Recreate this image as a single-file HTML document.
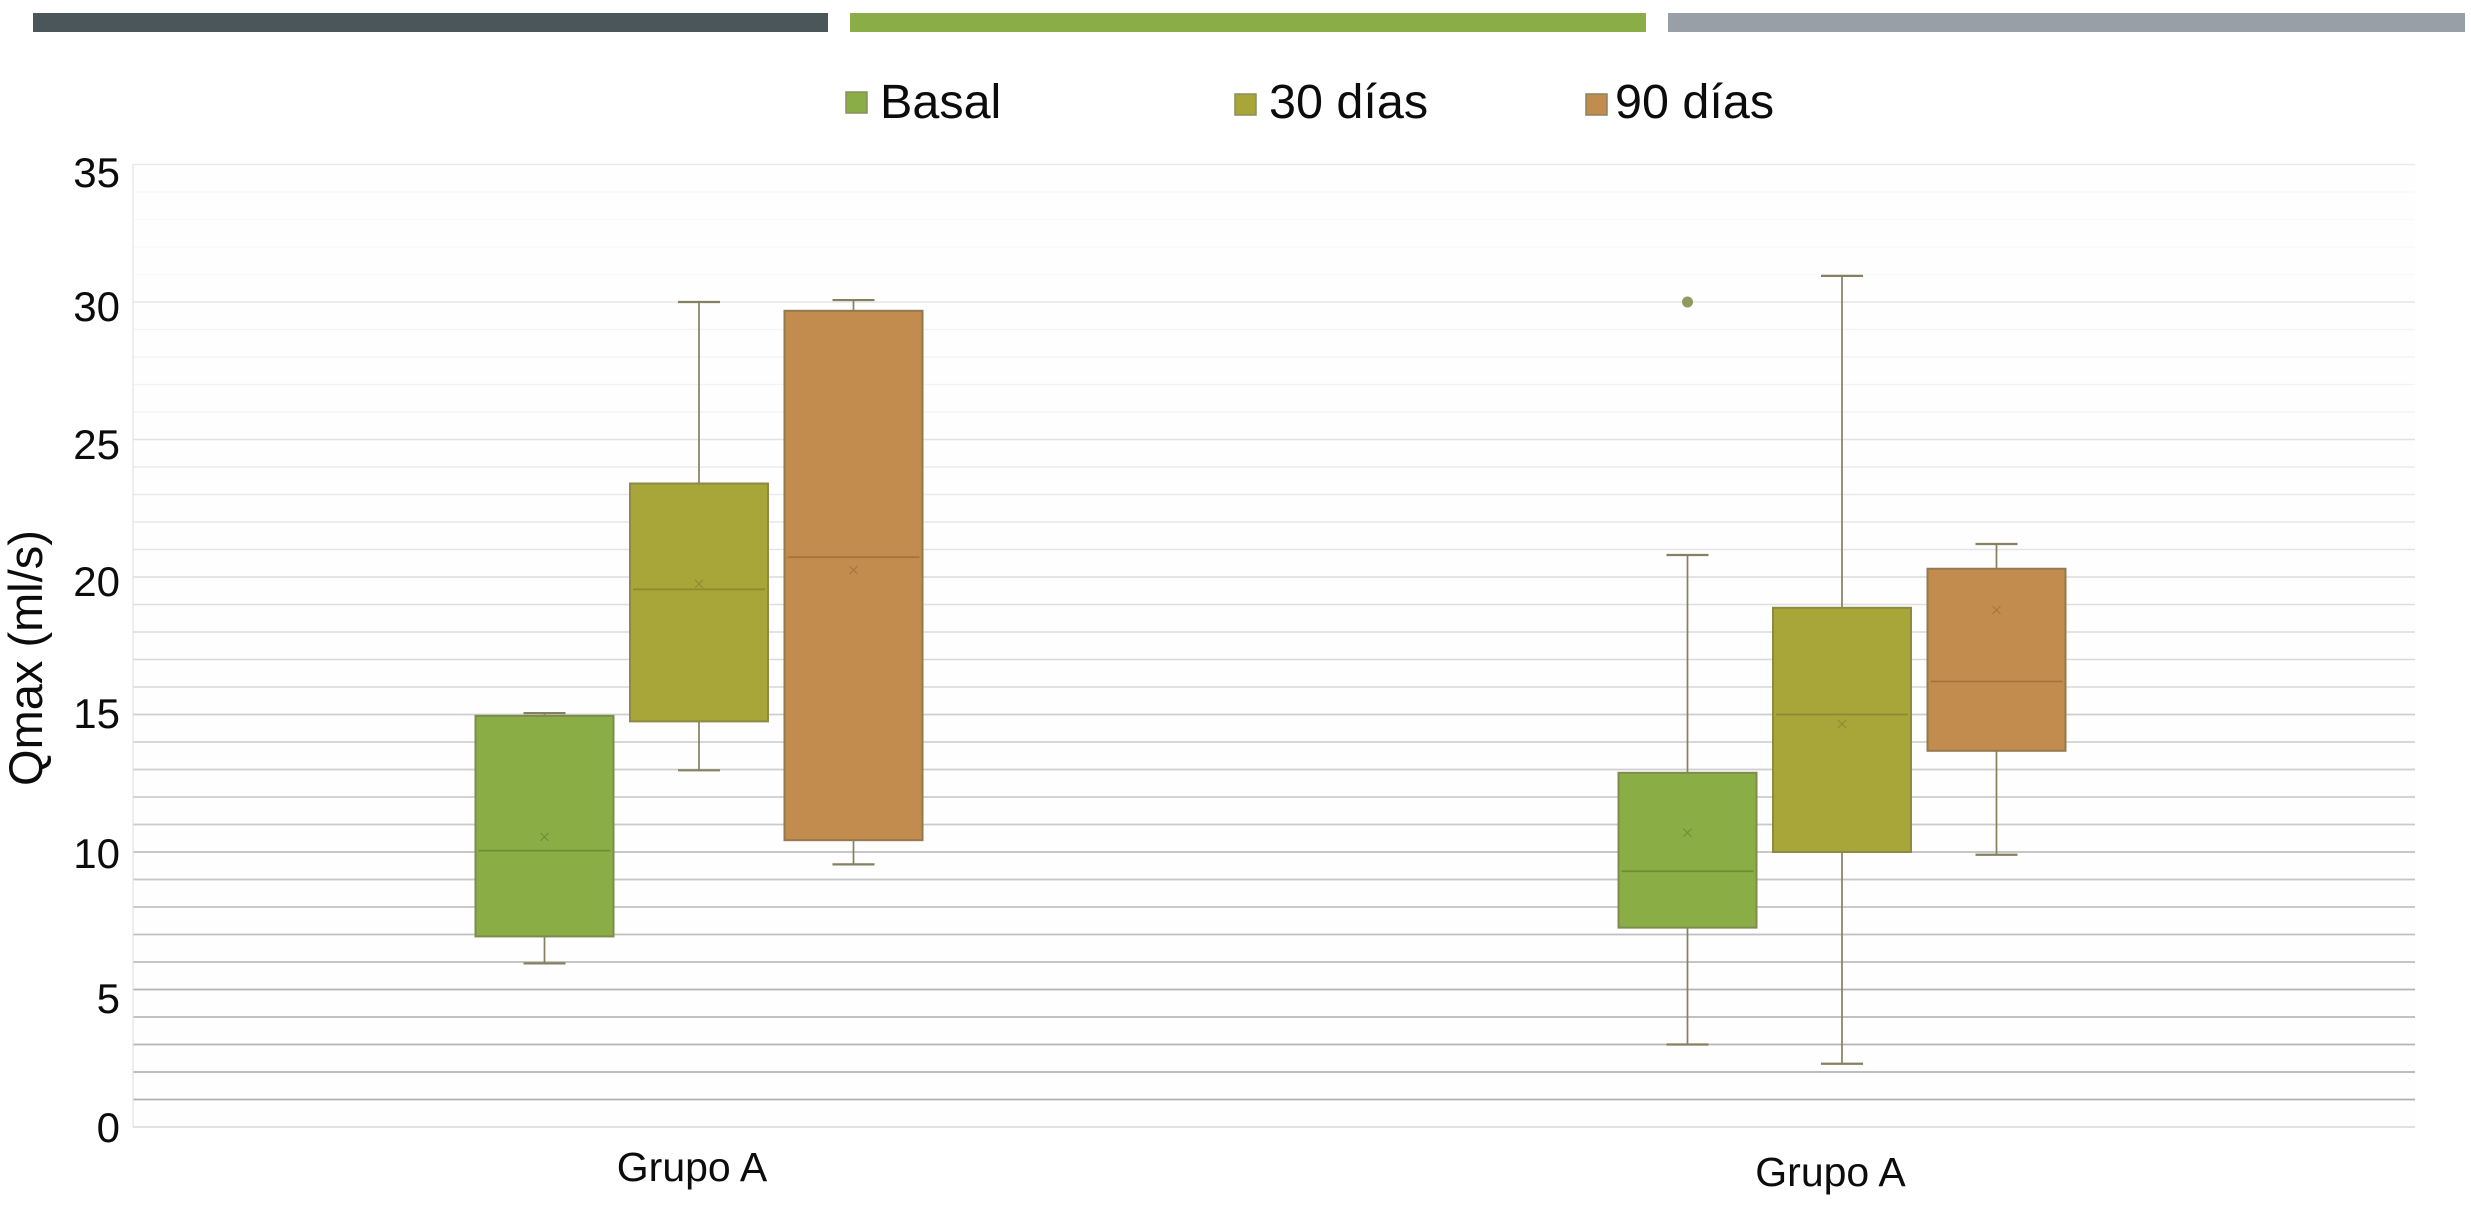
<!DOCTYPE html>
<html lang="es">
<head>
<meta charset="utf-8">
<title>Qmax (ml/s)</title>
<style>
html,body{margin:0;padding:0;background:#fff;width:2471px;height:1205px;overflow:hidden}
svg{display:block}
text{font-family:"Liberation Sans",Arial,sans-serif;fill:#0c0c0c}
</style>
</head>
<body>
<svg id="chart" xmlns="http://www.w3.org/2000/svg" width="2471" height="1205" viewBox="0 0 2471 1205">
  <rect x="133" y="165" width="2282" height="962" fill="#fefefe"/>
  <rect x="33" y="13" width="795" height="19" fill="#4b565b"/>
  <rect x="850" y="13" width="796" height="19" fill="#8aad48"/>
  <rect x="1668" y="13" width="797" height="19" fill="#989fa6"/>
  <g>
    <rect x="846" y="92" width="21" height="21" fill="#8aae45" stroke="#8a8f5c" stroke-width="1.5"/>
    <text x="880" y="118" font-size="48.5">Basal</text>
    <rect x="1235" y="94" width="21" height="21" fill="#a8a539" stroke="#8a8f5c" stroke-width="1.5"/>
    <text x="1269" y="118" font-size="48.5">30 días</text>
    <rect x="1586" y="94" width="21" height="21" fill="#c28c4e" stroke="#8a8260" stroke-width="1.5"/>
    <text x="1615" y="118" font-size="48.5">90 días</text>
  </g>
  <text transform="translate(42,658) rotate(-90)" text-anchor="middle" font-size="47">Qmax (ml/s)</text>
  <g id="grid"></g>
  <g text-anchor="end" font-size="42">
    <text x="120" y="187">35</text>
    <text x="120" y="321">30</text>
    <text x="120" y="459">25</text>
    <text x="120" y="596">20</text>
    <text x="120" y="728">15</text>
    <text x="120" y="868">10</text>
    <text x="120" y="1013">5</text>
    <text x="120" y="1142">0</text>
  </g>
  <g id="boxes"></g>
  <g id="cats"></g>
</svg>
<script>
// Chart data
const categories = ['Grupo A', 'Grupo A'];
const seriesNames = ['Basal', '30 días', '90 días'];
const gridValues = [1,2,3,4,5,6,7,8,9,10,11,12,13,14,15,16,17,18,19,20,21,22,23,24,25,26,27,28,29,30,31,32,33,34,35];
const whiskerLow = [[5.95, 12.97, 9.55], [3.0, 2.3, 9.9]];
const quartile1 = [[6.93, 14.75, 10.43], [7.25, 10.0, 13.68]];
const medians = [[10.05, 19.55, 20.72], [9.3, 15.0, 16.2]];
const means = [[10.55, 19.75, 20.25], [10.7, 14.65, 18.8]];
const quartile3 = [[14.95, 23.4, 29.68], [12.88, 18.88, 20.3]];
const whiskerHigh = [[15.05, 30.0, 30.07], [20.8, 30.95, 21.2]];
const outliers = [[[], [], []], [[30.0], [], []]];

const NS = 'http://www.w3.org/2000/svg';
const fills = ['#8aae45', '#a8a539', '#c28c4e'];
const strokes = ['#7d8c4c', '#8c8a45', '#94794f'];
const medianStrokes = ['#6f8c35', '#8d8a30', '#a5743a'];

const plot = {left: 133, right: 2415, y0: 1127, unit: 27.5};
function yScale(v) { return plot.y0 - v * plot.unit; }
function groupCenter(g) { return 699 + g * 1143; }
function boxCenter(g, s) { return groupCenter(g) + (s - 1) * 154.5; }
const boxWidth = 138, capWidth = 42;

function make(parent, tag, attrs, text) {
  const el = document.createElementNS(NS, tag);
  for (const k in attrs) el.setAttribute(k, attrs[k]);
  if (text !== undefined) el.textContent = text;
  parent.appendChild(el);
  return el;
}
function gridColor(v) {
  let c;
  if (v > 30) c = v === 35 ? 235 : 249;
  else if (v > 25) c = v === 30 ? 230 : 243;
  else if (v === 25) c = 226;
  else c = Math.round(176 + (v - 1) * 2.6 - (v % 5 === 0 ? 6 : 0));
  return 'rgb(' + c + ',' + c + ',' + c + ')';
}

const gridG = document.getElementById('grid');
gridValues.forEach(function (v) {
  const line = make(gridG, 'line', {x1: plot.left, x2: plot.right, y1: yScale(v), y2: yScale(v), stroke: gridColor(v), 'stroke-width': v < 16 ? 1.8 : 1.4});
  
  
});
const baseLine = make(gridG, 'line', {x1: plot.left, x2: plot.right, y1: yScale(0), y2: yScale(0), stroke: '#d8d8d8', 'stroke-width': 1.5});


const axisLine = make(gridG, 'line', {x1: plot.left, x2: plot.left, y1: yScale(35), y2: yScale(0), stroke: '#e2e2e2', 'stroke-width': 1.2});



const boxG = document.getElementById('boxes');
categories.forEach(function (cat, g) {
  seriesNames.forEach(function (name, s) {
    const cx = boxCenter(g, s);
    const st = strokes[s];
    const group = make(boxG, 'g', {});
    
    

    const stem = make(group, 'line', {x1: cx, x2: cx, y1: yScale(whiskerLow[g][s]), y2: yScale(whiskerHigh[g][s]), stroke: '#85805f', 'stroke-width': 1.7});
    
    

    const capLow = make(group, 'line', {x1: cx - capWidth / 2, x2: cx + capWidth / 2, y1: yScale(whiskerLow[g][s]), y2: yScale(whiskerLow[g][s]), stroke: '#85805f', 'stroke-width': 2.2});
    
    

    const capHigh = make(group, 'line', {x1: cx - capWidth / 2, x2: cx + capWidth / 2, y1: yScale(whiskerHigh[g][s]), y2: yScale(whiskerHigh[g][s]), stroke: '#85805f', 'stroke-width': 2.2});
    
    

    const box = make(group, 'rect', {x: cx - boxWidth / 2, y: yScale(quartile3[g][s]), width: boxWidth, height: yScale(quartile1[g][s]) - yScale(quartile3[g][s]), fill: fills[s], stroke: st, 'stroke-width': 2});
    
    

    const med = make(group, 'line', {x1: cx - boxWidth / 2 + 3, x2: cx + boxWidth / 2 - 3, y1: yScale(medians[g][s]), y2: yScale(medians[g][s]), stroke: medianStrokes[s], 'stroke-width': 1.8});
    
    

    const my = yScale(means[g][s]);
    const mean = make(group, 'path', {d: 'M' + (cx - 4) + ' ' + (my - 4) + 'L' + (cx + 4) + ' ' + (my + 4) + 'M' + (cx + 4) + ' ' + (my - 4) + 'L' + (cx - 4) + ' ' + (my + 4), stroke: medianStrokes[s], 'stroke-width': 1, fill: 'none'});
    
    

    outliers[g][s].forEach(function (v) {
      const dot = make(group, 'circle', {cx: cx, cy: yScale(v), r: 5.5, fill: '#8f9a5e'});
      
      
    });
  });
});

const catG = document.getElementById('cats');
categories.forEach(function (cat, g) {
  const label = make(catG, 'text', {x: 692 + g * 1138.5, y: 1181 + g * 5, 'text-anchor': 'middle', 'font-size': 41}, cat);
  
  
});
</script>
</body>
</html>
